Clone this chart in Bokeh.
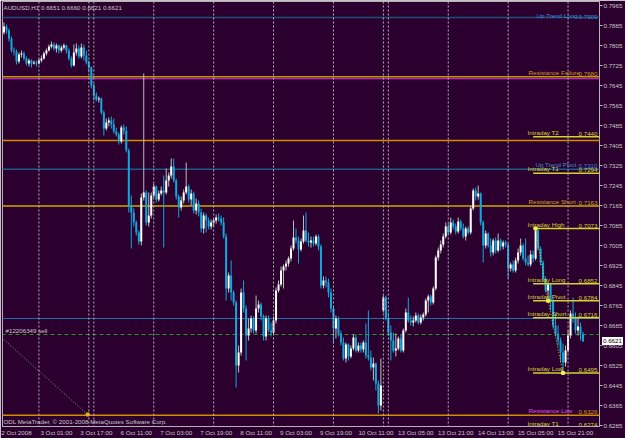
from bokeh.plotting import figure
from bokeh.models import (ColumnDataSource, Range1d, FixedTicker, Span, Label,
                          LabelSet, PrintfTickFormatter, Div)
from bokeh.layouts import column
from bokeh.embed import file_html
from bokeh.resources import INLINE
from bokeh.core.properties import value

# ---------------- data (AUDUSD H1) ----------------
closes = [
    0.7881, 0.7865, 0.7833, 0.7785, 0.7781, 0.7741, 0.7769, 0.7773, 0.7753, 0.7733,
    0.7745, 0.7733, 0.7737, 0.7733, 0.7745, 0.7753, 0.7773, 0.7785, 0.7801, 0.7809,
    0.7793, 0.7805, 0.7785, 0.7797, 0.7805, 0.7785, 0.7753, 0.7725, 0.7777, 0.7793,
    0.7761, 0.7797, 0.7765, 0.7737, 0.7717, 0.7645, 0.7605, 0.7589, 0.7593, 0.7537,
    0.7473, 0.7497, 0.7505, 0.7489, 0.7461, 0.7449, 0.7421, 0.7477, 0.7465, 0.7385,
    0.7165, 0.7137, 0.7097, 0.7057, 0.7021, 0.7197, 0.7217, 0.7097, 0.7125, 0.7205,
    0.7241, 0.7189, 0.7213, 0.7225, 0.7217, 0.7265, 0.7285, 0.7321, 0.7265, 0.7201,
    0.7157, 0.7185, 0.7217, 0.7241, 0.7189, 0.7213, 0.7145, 0.7173, 0.7137, 0.7073,
    0.7125, 0.7105, 0.7081, 0.7097, 0.7105, 0.7117, 0.7113, 0.7097, 0.7041, 0.6833,
    0.6885, 0.6817, 0.6777, 0.6525, 0.6577, 0.6817, 0.6753, 0.6645, 0.6673, 0.6713,
    0.6665, 0.6753, 0.6769, 0.6721, 0.6641, 0.6713, 0.6665, 0.6657, 0.6705, 0.6825,
    0.6849, 0.6905, 0.6921, 0.6933, 0.6953, 0.6993, 0.7037, 0.7025, 0.6989, 0.7021,
    0.7065, 0.7025, 0.7017, 0.7025, 0.7013, 0.7041, 0.7001, 0.6845, 0.6865, 0.6857,
    0.6817, 0.6753, 0.6673, 0.6713, 0.6653, 0.6617, 0.6553, 0.6609, 0.6561, 0.6593,
    0.6637, 0.6585, 0.6605, 0.6589, 0.6617, 0.6565, 0.6557, 0.6517, 0.6533, 0.6453,
    0.6365, 0.6445, 0.6797, 0.6713, 0.6657, 0.6625, 0.6585, 0.6593, 0.6633, 0.6585,
    0.6665, 0.6737, 0.6705, 0.6697, 0.6705, 0.6725, 0.6697, 0.6717, 0.6729, 0.6785,
    0.6801, 0.6777, 0.6833, 0.6957, 0.6985, 0.7009, 0.7041, 0.7081, 0.7057, 0.7097,
    0.7081, 0.7061, 0.7101, 0.7073, 0.7041, 0.7073, 0.7057, 0.7153, 0.7225, 0.7201,
    0.7213, 0.7097, 0.7005, 0.7053, 0.7005, 0.6977, 0.7025, 0.6985, 0.7025, 0.7001,
    0.7017, 0.7009, 0.6913, 0.6929, 0.6905, 0.6945, 0.6977, 0.7005, 0.6953, 0.6937,
    0.6929, 0.6969, 0.6953, 0.7065, 0.6993, 0.6937, 0.6873, 0.6825, 0.6849, 0.6785,
    0.6685, 0.6653, 0.6625, 0.6577, 0.6537, 0.6585, 0.6645, 0.6733, 0.6713, 0.6665,
    0.6681, 0.6651, 0.6621,
]
highs = [
    0.7897, 0.7889, 0.7873, 0.7841, 0.7797, 0.7789, 0.7777, 0.7785, 0.7781, 0.7761,
    0.7753, 0.7749, 0.7745, 0.7745, 0.7753, 0.7765, 0.7781, 0.7793, 0.7809, 0.7821,
    0.7817, 0.7813, 0.7809, 0.7805, 0.7813, 0.7809, 0.7793, 0.7761, 0.7809, 0.7813,
    0.7805, 0.7813, 0.7809, 0.7785, 0.7745, 0.7721, 0.7653, 0.7617, 0.7601, 0.7597,
    0.7545, 0.7513, 0.7517, 0.7521, 0.7513, 0.7477, 0.7457, 0.7485, 0.7489, 0.7481,
    0.7393, 0.7205, 0.7153, 0.7105, 0.7065, 0.7213, 0.7693, 0.7225, 0.7217, 0.7217,
    0.7253, 0.7245, 0.7225, 0.7241, 0.7285, 0.7313, 0.7297, 0.7353, 0.7353, 0.7273,
    0.7209, 0.7201, 0.7229, 0.7337, 0.7249, 0.7229, 0.7221, 0.7193, 0.7185, 0.7153,
    0.7137, 0.7133, 0.7117, 0.7109, 0.7113, 0.7129, 0.7133, 0.7125, 0.7117, 0.7053,
    0.6897, 0.6945, 0.6825, 0.6785, 0.6605, 0.6833, 0.6865, 0.6765, 0.6713, 0.6725,
    0.6721, 0.6805, 0.6785, 0.6777, 0.6729, 0.6725, 0.6725, 0.6697, 0.6721, 0.6837,
    0.6865, 0.6921, 0.6929, 0.6945, 0.6961, 0.7005, 0.7105, 0.7073, 0.7041, 0.7033,
    0.7125, 0.7137, 0.7057, 0.7041, 0.7041, 0.7049, 0.7049, 0.7009, 0.6881, 0.6881,
    0.6873, 0.6833, 0.6761, 0.6725, 0.6721, 0.6665, 0.6637, 0.6617, 0.6613, 0.6605,
    0.6649, 0.6649, 0.6617, 0.6617, 0.6625, 0.6693, 0.6745, 0.6585, 0.6557, 0.6537,
    0.6465, 0.6553, 0.6805, 0.6805, 0.6737, 0.6685, 0.6657, 0.6653, 0.6641, 0.6649,
    0.6673, 0.6753, 0.6797, 0.6725, 0.6721, 0.6737, 0.6733, 0.6729, 0.6737, 0.6793,
    0.6809, 0.6809, 0.6841, 0.6965, 0.6997, 0.7025, 0.7053, 0.7097, 0.7093, 0.7117,
    0.7109, 0.7093, 0.7117, 0.7109, 0.7093, 0.7081, 0.7081, 0.7161, 0.7233, 0.7237,
    0.7245, 0.7217, 0.7105, 0.7065, 0.7057, 0.7033, 0.7033, 0.7037, 0.7053, 0.7033,
    0.7025, 0.7025, 0.7013, 0.6937, 0.6945, 0.6957, 0.6993, 0.7033, 0.7013, 0.7033,
    0.6965, 0.6985, 0.6985, 0.7073, 0.7069, 0.7001, 0.6945, 0.6881, 0.6857, 0.6853,
    0.6793, 0.6733, 0.6685, 0.6637, 0.6613, 0.6605, 0.6665, 0.6745, 0.6797, 0.6737,
    0.6721, 0.6697, 0.6660,
]
lows = [
    0.7849, 0.7853, 0.7821, 0.7777, 0.7765, 0.7729, 0.7733, 0.7757, 0.7745, 0.7725,
    0.7721, 0.7717, 0.7729, 0.7721, 0.7729, 0.7737, 0.7749, 0.7765, 0.7781, 0.7793,
    0.7785, 0.7777, 0.7773, 0.7777, 0.7789, 0.7773, 0.7745, 0.7717, 0.7721, 0.7765,
    0.7753, 0.7753, 0.7745, 0.7729, 0.7697, 0.7633, 0.7585, 0.7581, 0.7577, 0.7529,
    0.7445, 0.7465, 0.7481, 0.7473, 0.7453, 0.7441, 0.7409, 0.7413, 0.7449, 0.7377,
    0.7137, 0.6993, 0.7081, 0.7045, 0.7009, 0.7005, 0.7185, 0.7085, 0.7081, 0.7113,
    0.7197, 0.7177, 0.7181, 0.7205, 0.6997, 0.7209, 0.7241, 0.7273, 0.7257, 0.7189,
    0.7117, 0.7145, 0.7173, 0.7209, 0.7177, 0.7165, 0.7133, 0.7129, 0.7121, 0.7057,
    0.7053, 0.7057, 0.7069, 0.7069, 0.7081, 0.7093, 0.7101, 0.7085, 0.7033, 0.6785,
    0.6817, 0.6785, 0.6765, 0.6437, 0.6497, 0.6565, 0.6737, 0.6545, 0.6625, 0.6657,
    0.6653, 0.6653, 0.6737, 0.6705, 0.6625, 0.6625, 0.6657, 0.6641, 0.6649, 0.6693,
    0.6817, 0.6841, 0.6833, 0.6905, 0.6921, 0.6941, 0.6985, 0.7013, 0.6933, 0.6981,
    0.7013, 0.7017, 0.7001, 0.6997, 0.7001, 0.7005, 0.6985, 0.6833, 0.6833, 0.6837,
    0.6797, 0.6737, 0.6613, 0.6633, 0.6641, 0.6605, 0.6545, 0.6537, 0.6545, 0.6553,
    0.6585, 0.6577, 0.6577, 0.6577, 0.6577, 0.6553, 0.6545, 0.6505, 0.6465, 0.6425,
    0.6333, 0.6345, 0.6737, 0.6705, 0.6645, 0.6545, 0.6577, 0.6561, 0.6585, 0.6577,
    0.6577, 0.6657, 0.6697, 0.6685, 0.6681, 0.6697, 0.6689, 0.6689, 0.6705, 0.6721,
    0.6737, 0.6765, 0.6769, 0.6825, 0.6945, 0.6973, 0.6997, 0.7033, 0.7049, 0.7049,
    0.7069, 0.7049, 0.7053, 0.7065, 0.7033, 0.7025, 0.7049, 0.7049, 0.7145, 0.7185,
    0.7189, 0.7085, 0.6937, 0.6993, 0.6997, 0.6961, 0.6965, 0.6973, 0.6977, 0.6985,
    0.6989, 0.6997, 0.6873, 0.6901, 0.6897, 0.6897, 0.6933, 0.6965, 0.6945, 0.6925,
    0.6921, 0.6921, 0.6937, 0.6945, 0.6985, 0.6925, 0.6861, 0.6817, 0.6785, 0.6745,
    0.6673, 0.6641, 0.6605, 0.6537, 0.6495, 0.6521, 0.6577, 0.6633, 0.6697, 0.6653,
    0.6645, 0.6625, 0.6621,
]
first_open = 0.7857          # open of the first bar (2 Oct 10:00)
gap_opens = {152: 0.6745}    # Sunday re-open after the weekend gap

time_label_bars = [-1, 15, 31, 47, 63, 79, 95, 111, 127, 143, 159, 175, 191, 207, 223]
time_labels = ["2 Oct 2008", "3 Oct 01:00", "3 Oct 17:00", "6 Oct 11:00", "7 Oct 03:00",
               "7 Oct 19:00", "8 Oct 11:00", "9 Oct 03:00", "9 Oct 19:00", "10 Oct 11:00",
               "13 Oct 05:00", "13 Oct 21:00", "14 Oct 13:00", "15 Oct 05:00", "15 Oct 21:00"]
day_separator_bars = [14, 34, 36, 60, 84, 108, 132, 152, 154, 178, 202, 226]
price_ticks = [0.6285, 0.6365, 0.6445, 0.6525, 0.6605, 0.6685, 0.6765, 0.6845, 0.6925,
               0.7005, 0.7085, 0.7165, 0.7245, 0.7325, 0.7405, 0.7485, 0.7565, 0.7645,
               0.7725, 0.7805, 0.7885, 0.7965]

# indicator levels
level_names = ["Up Trend Long", "Resistance Failure", "Intraday   T2", "Up Trend Pivot",
               "Intraday   T1", "Resistance Short", "Intraday High", "Intraday Long",
               "Intraday Pivot", "Intraday Short", "Intraday Low", "Resistance Low",
               "Intraday   T1"]
level_prices = [0.7909, 0.7680, 0.7440, 0.7310, 0.7294, 0.7163, 0.7073, 0.6852, 0.6784,
                0.6716, 0.6495, 0.6326, 0.6274]
level_name_colors = ["#3c8cd2", "#d2961e", "#d2d232", "#3c8cd2", "#d2d232", "#d2a01e",
                     "#d2d232", "#d2d232", "#d2d232", "#d2d232", "#d2d232", "#e650e6",
                     "#d2d232"]
level_value_colors = ["#3c8cd2", "#d2961e", "#d2d232", "#3c8cd2", "#d2d232", "#d2a01e",
                      "#d2d232", "#d2d232", "#d2d232", "#d2d232", "#d2d232", "#d2961e",
                      "#d2d232"]
level_name_px = [537, 529, 528, 536, 528, 529, 528, 528, 528, 528, 528, 529, 528]

full_line_prices = [0.7917, 0.7680, 0.7672, 0.7425, 0.7310, 0.7163, 0.6713, 0.6326]
full_line_colors = ["#1e5078", "#c8960a", "#e03ce0", "#d28c00", "#1e5a82", "#c8aa00",
                    "#1e6eaa", "#d28c00"]
full_line_widths = [1.5, 1.5, 1, 1.5, 1.5, 1.5, 1, 1.5]
short_line_prices = [0.7440, 0.7294, 0.7073, 0.6852, 0.6784, 0.6716, 0.6495]

order_price = 0.6649
order_label = "#12206349 sell"
order_path_bars = [-1, 33.5]
order_path_prices = [0.6637, 0.6329]

zigzag_bars = [213, 218, 224]
zigzag_prices = [0.7073, 0.6784, 0.6495]

last_price = 0.6621
title_text = "AUDUSD,H1  0.6651 0.6660 0.6621 0.6621"
footer_text = "ODL MetaTrader, \u00a9 2001-2008 MetaQuotes Software Corp."

# ---------------- styling ----------------
BG = "#2b002e"
FG = "#c8c8c8"
BULL = "#ffffff"
BULL_WICK = "#bdbdbd"
BEAR = "#12a8dc"
FONT = "Liberation Sans"
FS = "6.2px"
Y_TOP, Y_BOTTOM = 0.7981, 0.6281
FRAME_TOP_PX, FRAME_H_PX = 1, 425


def bx(px):
    """pixel column -> bar coordinate (2.5 px per bar)"""
    return (px - 3.5) / 2.5


n = len(closes)
bars = list(range(n))
opens = [first_open] + closes[:-1]
for k, v in gap_opens.items():
    opens[k] = v
up = [c >= o for o, c in zip(opens, closes)]
src = ColumnDataSource(dict(
    x=bars, o=opens, c=closes, h=highs, l=lows,
    top=[max(o, c) for o, c in zip(opens, closes)],
    bottom=[min(o, c) for o, c in zip(opens, closes)],
    body=[BULL if u else BEAR for u in up],
    wick=[BULL_WICK if u else BEAR for u in up],
))

p = figure(width=625, height=438, x_range=Range1d(-0.6, 238.6),
           y_range=Range1d(Y_BOTTOM, Y_TOP), output_backend="svg",
           toolbar_location=None, y_axis_location="right",
           min_border_left=2, min_border_right=25, min_border_top=1,
           min_border_bottom=12)
p.background_fill_color = BG
p.border_fill_color = BG
p.outline_line_color = "#b4b4b4"
p.grid.visible = False

# axes
p.yaxis.ticker = FixedTicker(ticks=price_ticks)
p.yaxis.formatter = PrintfTickFormatter(format="%.4f")
p.yaxis.axis_line_color = None
p.yaxis.major_tick_in = 0
p.yaxis.major_tick_out = 3
p.yaxis.major_tick_line_color = "#b4b4b4"
p.yaxis.minor_tick_line_color = None
p.yaxis.major_label_standoff = 1
p.yaxis.major_label_text_color = FG
p.yaxis.major_label_text_font = FONT
p.yaxis.major_label_text_font_size = FS

tick_pos = [b + 6 for b in time_label_bars]
p.xaxis.ticker = FixedTicker(ticks=tick_pos)
p.xaxis.major_label_overrides = {t: s for t, s in zip(tick_pos, time_labels)}
p.xaxis.axis_line_color = None
p.xaxis.major_tick_line_color = None
p.xaxis.minor_tick_line_color = None
p.xaxis.major_tick_out = 0
p.xaxis.major_label_standoff = 2
p.xaxis.major_label_text_color = FG
p.xaxis.major_label_text_font = FONT
p.xaxis.major_label_text_font_size = FS

# day separators
for b in day_separator_bars:
    p.add_layout(Span(location=b, dimension="height", line_color="#b4b4b4",
                      line_dash="2 2", line_width=1))

# full-width levels
p.segment(x0=[-1] * len(full_line_prices), x1=[240] * len(full_line_prices),
          y0=full_line_prices, y1=full_line_prices, line_color=full_line_colors,
          line_width=full_line_widths)
# order line
p.segment(x0=[-1], x1=[240], y0=[order_price], y1=[order_price],
          line_color="#229a22", line_dash="4 3", line_width=1)
p.line(order_path_bars, order_path_prices, line_color="#8aa88a", line_dash="1 2",
       line_width=1)
p.scatter([order_path_bars[-1]], [order_path_prices[-1]], marker="square", size=3,
          color="#e6b400")

# candles
p.segment(x0="x", x1="x", y0="h", y1="l", line_color="wick", line_width=1, source=src)
p.vbar(x="x", width=0.8, top="top", bottom="bottom", fill_color="body",
       line_color=None, source=src)

# short intraday levels
p.segment(x0=[212] * len(short_line_prices), x1=[240] * len(short_line_prices),
          y0=short_line_prices, y1=short_line_prices, line_color="#d2d232",
          line_width=1.5)
p.line(zigzag_bars, zigzag_prices, line_color="#d2d232", line_dash="1 2", line_width=1)
p.scatter(zigzag_bars, zigzag_prices, marker="square", size=3, color="#f0f050")

# level labels
lab = ColumnDataSource(dict(
    name=level_names,
    val=["%.4f" % v for v in level_prices],
    y=level_prices,
    xn=[bx(px) for px in level_name_px],
    xv=[bx(598)] * len(level_prices),
    cn=level_name_colors, cv=level_value_colors,
))
p.add_layout(LabelSet(x="xn", y="y", text="name", source=lab, text_color="cn",
                      text_font=value(FONT), text_font_size=value(FS),
                      text_baseline="bottom", text_align="left", y_offset=1))
p.add_layout(LabelSet(x="xv", y="y", text="val", source=lab, text_color="cv",
                      text_font=value(FONT), text_font_size=value(FS),
                      text_baseline="bottom", text_align="right", y_offset=1))

p.add_layout(Label(x=bx(5), y=order_price, text=order_label, text_color=FG,
                   text_font=FONT, text_font_size=FS, text_baseline="bottom", y_offset=1))
p.add_layout(Label(x=bx(3), y=Y_TOP, text=title_text, text_color=FG,
                   text_font=FONT, text_font_size=FS, text_baseline="top", y_offset=-2))
p.add_layout(Label(x=bx(3), y=Y_BOTTOM, text=footer_text, text_color=FG,
                   text_font=FONT, text_font_size=FS, text_baseline="bottom", y_offset=2))

# current price marker on the price scale (outside the plot frame): small overlay box
box_center_px = FRAME_TOP_PX + (Y_TOP - last_price) / (Y_TOP - Y_BOTTOM) * FRAME_H_PX
box_html = ('<div style="display:block;width:fit-content;margin:0;background:#ffffff;'
            'color:#000000;font-family:\'%s\';font-size:%s;line-height:8px;'
            'padding:0 1px;white-space:nowrap;">%.4f</div>' % (FONT, FS, last_price))
price_box = Div(text=box_html, width=20, height=8, styles={
    "position": "absolute", "left": "602px", "top": "%dpx" % round(box_center_px - 4),
    "overflow": "visible", "z-index": "10", "margin": "0px", "padding": "0px",
    "line-height": "8px", "font-size": FS,
})

layout = column(p, price_box)
open("out.html", "w").write(file_html(layout, INLINE))
